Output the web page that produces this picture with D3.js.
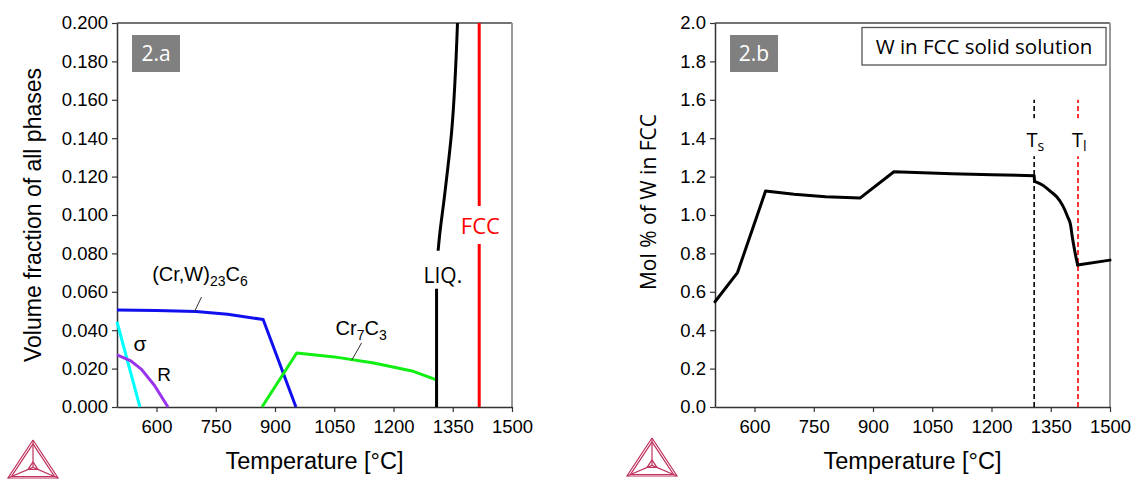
<!DOCTYPE html>
<html>
<head>
<meta charset="utf-8">
<script src="https://cdn.jsdelivr.net/npm/d3@7"></script>
<style>
  body { margin: 0; background: #fff; }
  svg { display: block; }
</style>
</head>
<body>
<div id="chart"></div>
<script>
// ---- data ----
const tempTicks = [600, 750, 900, 1050, 1200, 1350, 1500];
const volTicks = d3.range(0, 0.2001, 0.02);
const molTicks = d3.range(0, 2.001, 0.2);

// 2.a volume fraction of phases, [T, fraction]
const m23c6 = [[500, 0.0505], [600, 0.0503], [700, 0.0498], [780, 0.0483], [870, 0.0456], [953, 0]];
const m7c3 = [[867, 0], [955, 0.0281], [1050, 0.0261], [1150, 0.0229], [1250, 0.0186], [1309, 0.0141], [1309, 0]];
const sigma = [[500, 0.0444], [558, 0]];
const rPhase = [[500, 0.0271], [535, 0.0240], [562, 0.0196], [595, 0.0112], [629, 0]];
const liquid = [[1309, 0], [1309, 0.06], [1311, 0.076], [1316, 0.088], [1328, 0.108], [1347, 0.143], [1362, 0.2]];
const fcc = [[1417, 0], [1417, 0.2]];

// 2.b W in FCC, [T, mol %]
const wInFcc = [[500, 0.548], [557, 0.70], [628, 1.125], [700, 1.108], [780, 1.095], [867, 1.088],
  [953, 1.225], [1100, 1.215], [1200, 1.21], [1308, 1.205], [1309, 1.175], [1330, 1.155],
  [1350, 1.122], [1365, 1.095], [1380, 1.05], [1393, 0.99], [1400, 0.95], [1405, 0.88],
  [1411, 0.81], [1418, 0.74], [1500, 0.765]];
const solidus = 1308;
const liquidus = 1419;

const W = 1132, H = 482;
const svg = d3.select('#chart').append('svg')
  .attr('width', W).attr('height', H);

const sansA = 'Liberation Sans, Arial, sans-serif';
const sansB = 'Open Sans, sans-serif';

function panel(left, yDomain, yTicks, yFmt, yTitle, yTitleX, yTitleY, yTitleFont, yTitleSize) {
  const top = 23, bottom = 407, right = left + 395;
  const x = d3.scaleLinear().domain([500, 1500]).range([left, right]);
  const y = d3.scaleLinear().domain(yDomain).range([bottom, top]);
  const g = svg.append('g');

  // frame (top + right)
  g.append('line').attr('x1', left).attr('x2', right).attr('y1', top).attr('y2', top)
    .attr('stroke', '#444').attr('stroke-width', 1.5);
  g.append('line').attr('x1', right).attr('x2', right).attr('y1', top).attr('y2', bottom)
    .attr('stroke', '#999').attr('stroke-width', 2);

  const ax = g.append('g').attr('transform', `translate(0,${bottom})`)
    .call(d3.axisBottom(x).tickValues(tempTicks).tickFormat(d3.format('d'))
      .tickSize(5).tickSizeOuter(0).tickPadding(8));
  const ay = g.append('g').attr('transform', `translate(${left},0)`)
    .call(d3.axisLeft(y).tickValues(yTicks).tickFormat(d3.format(yFmt)).tickSize(5).tickSizeOuter(0).tickPadding(4));
  [ax, ay].forEach(a => {
    a.attr('font-family', sansA).attr('font-size', '18.5px');
    a.selectAll('text').attr('fill', '#000');
    a.select('.domain').attr('stroke', '#333').attr('stroke-width', 1.5);
    a.selectAll('.tick line').attr('stroke', '#333').attr('stroke-width', 1.2);
  });

  g.append('text').attr('x', (left + right) / 2).attr('y', 469)
    .attr('text-anchor', 'middle').attr('font-family', sansA).attr('font-size', '23.5px')
    .text('Temperature [°C]');
  g.append('text').attr('transform', `translate(${yTitleX},${yTitleY}) rotate(-90)`)
    .attr('text-anchor', 'middle').attr('font-family', yTitleFont).attr('font-size', yTitleSize)
    .text(yTitle);
  return { g, x, y, left, top };
}

function tag(p, label) {
  p.g.append('rect').attr('x', p.left + 15).attr('y', p.top + 12).attr('width', 48).attr('height', 37)
    .attr('fill', '#808080');
  p.g.append('text').attr('x', p.left + 39).attr('y', p.top + 38).attr('text-anchor', 'middle')
    .attr('fill', '#fff').attr('font-family', sansB).attr('font-size', '21px').text(label);
}

function logo(cx, top) {
  const s = 50, h = 38;
  const a = [cx, top], b = [cx - s / 2, top + h], c = [cx + s / 2, top + h];
  const m = [cx, top + h * 0.72];
  const lg = svg.append('g').attr('fill', 'none').attr('stroke', '#c0325c').attr('stroke-width', 1.2);
  const tri = (p, q, r) => lg.append('path').attr('d', d3.line()([p, q, r, p]));
  tri(a, b, c);
  const inset = (p, k) => [p[0] + (m[0] - p[0]) * k, p[1] + (m[1] - p[1]) * k];
  tri(inset(a, 0.14), inset(b, 0.14), inset(c, 0.14));
  tri(inset(a, 0.8), inset(b, 0.8), inset(c, 0.8));
  [a, b, c].forEach(p => lg.append('path').attr('d', d3.line()([p, m])));
}

// labels
function lbl(p, T, v, txt, font, size, color, mid) {
  const t = p.g.append('text').attr('x', p.x(T)).attr('y', p.y(v)).attr('text-anchor', 'middle')
    .attr('font-family', font).attr('font-size', size).attr('fill', color || '#000').text(txt);
  if (mid) t.attr('dominant-baseline', 'central');
  return t;
}
function bgRect(p, T, v, w, h) {
  p.g.append('rect').attr('x', p.x(T) - w / 2).attr('y', p.y(v) - h / 2).attr('width', w).attr('height', h)
    .attr('fill', '#fff');
}
function leader(p, a, b) {
  p.g.append('line').attr('x1', p.x(a[0])).attr('y1', p.y(a[1])).attr('x2', p.x(b[0])).attr('y2', p.y(b[1]))
    .attr('stroke', '#333').attr('stroke-width', 1);
}

// ---------- 2.a ----------
const pa = panel(117, [0, 0.2], volTicks, '.3f', 'Volume fraction of all phases', 41, 215, sansA, '23px');
const la = d3.line().x(d => pa.x(d[0])).y(d => pa.y(d[1]));
const series = [
  [sigma, '#00ffff'], [rPhase, '#9933ee'], [m23c6, '#1010ee'], [m7c3, '#11ee11'], [fcc, '#ff0000']
];
series.forEach(([d, col]) => {
  pa.g.append('path').datum(d).attr('d', la).attr('fill', 'none')
    .attr('stroke', col).attr('stroke-width', 3).attr('stroke-linejoin', 'round');
});
pa.g.append('path').datum(liquid).attr('d', la.curve(d3.curveMonotoneY)).attr('fill', 'none')
  .attr('stroke', '#000').attr('stroke-width', 3);
la.curve(d3.curveLinear);
tag(pa, '2.a');

const t1 = lbl(pa, 710, 0.0656, '', sansA, '20px');
t1.append('tspan').text('(Cr,W)');
t1.append('tspan').attr('font-size', '14px').attr('dy', 5).text('23');
t1.append('tspan').attr('dy', -5).text('C');
t1.append('tspan').attr('font-size', '14px').attr('dy', 5).text('6');
leader(pa, [714, 0.0573], [696, 0.0496]);

lbl(pa, 558, 0.0329, 'σ', sansA, '21px', '#000', true);
lbl(pa, 619, 0.0167, 'R', sansA, '19px', '#000', true);

const t2 = lbl(pa, 1118, 0.0375, '', sansA, '20px');
t2.append('tspan').text('Cr');
t2.append('tspan').attr('font-size', '14px').attr('dy', 5).text('7');
t2.append('tspan').attr('dy', -5).text('C');
t2.append('tspan').attr('font-size', '14px').attr('dy', 5).text('3');
leader(pa, [1119, 0.0333], [1094, 0.0243]);

bgRect(pa, 1323, 0.0715, 44, 38);
lbl(pa, 1325, 0.0685, 'LIQ.', sansB, '21px', '#000', true);
bgRect(pa, 1419, 0.0948, 44, 38);
lbl(pa, 1420, 0.0948, 'FCC', sansB, '22px', '#ff0000', true);

// ---------- 2.b ----------
const pb = panel(715, [0, 2], molTicks, '.1f', 'Mol % of W in FCC', 656, 202, sansB, '21px');
const lb = d3.line().x(d => pb.x(d[0])).y(d => pb.y(d[1]));

[[solidus, '#000'], [liquidus, '#ff0000']].forEach(([T, col]) => {
  pb.g.append('line').attr('x1', pb.x(T)).attr('x2', pb.x(T)).attr('y1', pb.y(0)).attr('y2', pb.y(1.6))
    .attr('stroke', col).attr('stroke-width', 1.6).attr('stroke-dasharray', '5,3');
});
// straight parts below the solidus and above the liquidus, smooth curve between
const iS = wInFcc.findIndex(d => d[0] > solidus);
const iL = wInFcc.findIndex(d => d[0] >= liquidus - 1);
const wLine = () => pb.g.append('path').attr('fill', 'none').attr('stroke', '#000')
  .attr('stroke-width', 3).attr('stroke-linejoin', 'round').attr('stroke-linecap', 'round');
wLine().datum(wInFcc.slice(0, iS + 1)).attr('d', lb);
wLine().datum(wInFcc.slice(iS, iL + 1)).attr('d', d3.line().x(d => pb.x(d[0])).y(d => pb.y(d[1])).curve(d3.curveMonotoneX));
wLine().datum(wInFcc.slice(iL)).attr('d', lb);

[[solidus, 's'], [liquidus, 'l']].forEach(([T, sub]) => {
  bgRect(pb, T, 1.405, 30, 38);
  const t = lbl(pb, T + 3, 1.355, '', sansB, '20px');
  t.append('tspan').text('T');
  t.append('tspan').attr('font-size', '14px').attr('dy', 4).text(sub);
});

// title box
pb.g.append('rect').attr('x', 862).attr('y', 27.5).attr('width', 244).attr('height', 37.5)
  .attr('fill', '#fff').attr('stroke', '#555').attr('stroke-width', 1.3);
pb.g.append('text').attr('x', 984).attr('y', 53.5).attr('text-anchor', 'middle')
  .attr('font-family', sansB).attr('font-size', '20.5px').text('W in FCC solid solution');
tag(pb, '2.b');

logo(33, 440);
logo(652, 438);
</script>
</body>
</html>
